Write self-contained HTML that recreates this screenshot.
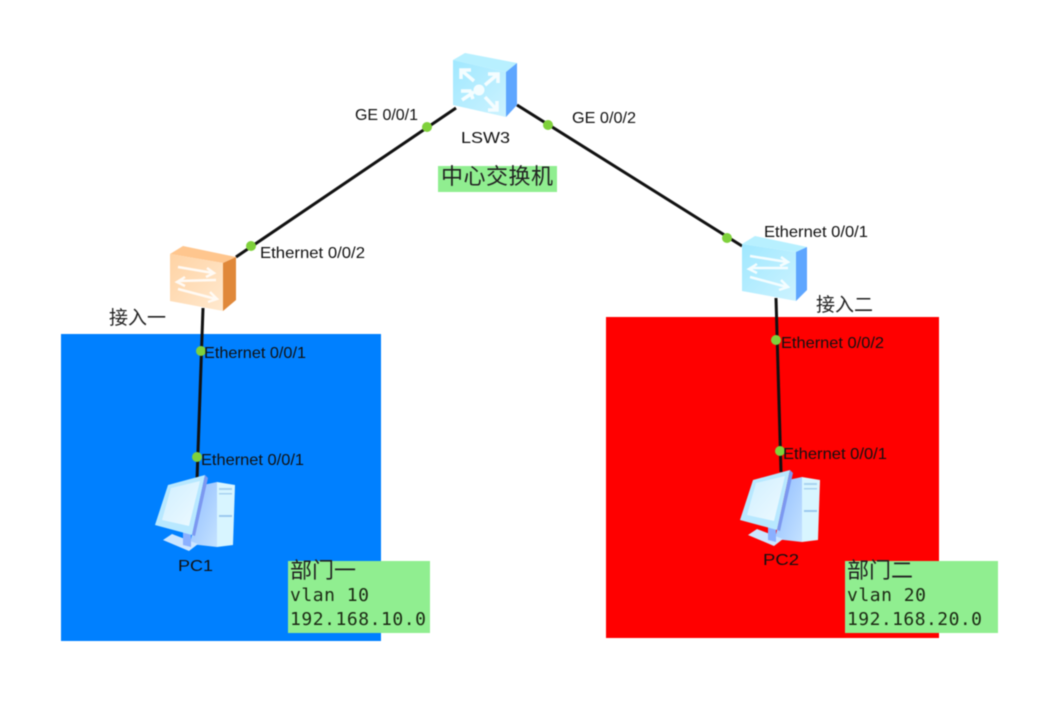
<!DOCTYPE html>
<html>
<head>
<meta charset="utf-8">
<style>
html,body{margin:0;padding:0;background:#fff;width:1062px;height:705px;overflow:hidden}
svg{display:block;filter:blur(.45px)}
.e{font-family:"Liberation Sans",sans-serif;font-size:15.7px;fill:#111}
.c{font-family:"Liberation Sans","Noto Sans CJK SC",sans-serif;font-size:19px;fill:#222}
.m{font-family:"DejaVu Sans Mono","Liberation Mono",monospace;font-size:18px;fill:#1c2a14}
</style>
</head>
<body>
<svg width="1062" height="705" viewBox="0 0 1062 705" xmlns="http://www.w3.org/2000/svg">
<defs>
<linearGradient id="bf" x1="0" y1="0" x2="1" y2="1"><stop offset="0" stop-color="#a0e8ff"/><stop offset="1" stop-color="#cdf3ff"/></linearGradient>
<linearGradient id="of" x1="0" y1="0" x2="1" y2="1"><stop offset="0" stop-color="#ffd3a4"/><stop offset="1" stop-color="#ffe9cf"/></linearGradient>
<linearGradient id="scr" x1="0" y1="0" x2="1" y2="1"><stop offset="0" stop-color="#d0efff"/><stop offset="1" stop-color="#eefaff"/></linearGradient>
<linearGradient id="side" x1="0" y1="0" x2="1" y2="1"><stop offset="0" stop-color="#8fbcff"/><stop offset="1" stop-color="#c4e2ff"/></linearGradient>
<g id="pc">
<polygon points="203,485 217,482 217,547 190,544" fill="url(#side)"/>
<polygon points="217,482 235,485 233,545 217,547" fill="#d8f5ff"/>
<polygon points="163,540 172,534 198,544 189,551" fill="#cde6ff"/>
<polygon points="183,530 191,532 191,547 183,545" fill="#8bb0ff"/>
<polygon points="155,525 168,485 205,475 192,535" fill="#b8e8ff"/>
<polygon points="162,520 171,488 200,481 189,526" fill="url(#scr)"/>
<polygon points="205,475 208,478 195,536 192,535" fill="#7c98f0"/>
<rect x="219" y="488" width="13" height="2" fill="#a8d2f0"/>
<rect x="219" y="493" width="13" height="1.5" fill="#a8d2f0"/>
<rect x="219" y="515" width="13" height="2" fill="#9cc8ee"/>
</g>
</defs>

<rect x="61" y="334" width="320" height="307" fill="#0080ff"/>
<rect x="606" y="317" width="333" height="321" fill="#ff0000"/>

<g stroke="#111" stroke-width="3" fill="none">
<line x1="456" y1="108" x2="236" y2="257"/>
<line x1="517" y1="105" x2="742" y2="246"/>
<line x1="203" y1="308" x2="197" y2="480"/>
<line x1="776" y1="298" x2="781" y2="472"/>
</g>

<!-- LSW3 -->
<polygon points="453,60 465,53 517,63 506,72" fill="#b8f0ff"/>
<polygon points="506,72 517,63 517,105 506,117" fill="#5ea6ff"/>
<polygon points="453,60 506,72 506,117 453,105" fill="url(#bf)"/>
<g stroke="#f4fdff" stroke-width="3.5" fill="none">
<path d="M461,70 L474,81 M461,79 V70 H471"/>
<path d="M498,74 L485,85 M498,83 V74 H488"/>
<path d="M462,100 L474,92 M461,91 H470 L473,99" />
<path d="M497,110 L485,97 M497,101 V110 H488"/>
</g>
<ellipse cx="479" cy="90" rx="5.5" ry="5.5" fill="#f4fdff"/>

<!-- orange switch -->
<polygon points="170,254 183,246 236,257 223,263" fill="#ffc68e"/>
<polygon points="223,263 236,257 236,300 223,311" fill="#e0883a"/>
<polygon points="170,254 223,263 223,311 170,301" fill="url(#of)"/>
<g stroke="#fffaf4" stroke-width="2.5" fill="none">
<path d="M178,267 L213,273 M207,268 L214,273 L206,277"/>
<path d="M216,279 L178,280 M185,276 L177,281 L185,285" transform="translate(0,1)"/>
<path d="M178,289 L216,299 M210,292 L217,299 L208,302"/>
</g>

<!-- blue switch -->
<polygon points="742,244 755,236 807,247 796,252" fill="#b8f0ff"/>
<polygon points="796,252 807,247 807,290 796,301" fill="#5ea6ff"/>
<polygon points="742,244 796,252 796,301 742,291" fill="url(#bf)"/>
<g stroke="#f4fdff" stroke-width="2.5" fill="none">
<path d="M750,256 L787,262 M781,257 L788,262 L780,266"/>
<path d="M788,268 L750,268 M757,264 L749,269 L757,273"/>
<path d="M750,277 L787,287 M781,280 L788,287 L779,290"/>
</g>

<use href="#pc"/>
<use href="#pc" x="585" y="-5"/>

<g fill="#7fd13b">
<circle cx="427" cy="127" r="5"/>
<circle cx="548" cy="125" r="5"/>
<circle cx="251" cy="246" r="5"/>
<circle cx="727" cy="238" r="5"/>
<circle cx="201" cy="351" r="5"/>
<circle cx="197" cy="457" r="5"/>
<circle cx="776" cy="340" r="5"/>
<circle cx="780" cy="451" r="5"/>
</g>

<rect x="438" y="166" width="119" height="26" fill="#90ee90"/>
<rect x="288" y="561" width="142" height="72" fill="#90ee90"/>
<rect x="845" y="561" width="153" height="72" fill="#90ee90"/>

<text class="e" x="355" y="120" textLength="63" lengthAdjust="spacingAndGlyphs">GE 0/0/1</text>
<text class="e" x="572" y="123" textLength="64" lengthAdjust="spacingAndGlyphs">GE 0/0/2</text>
<text class="e" x="461" y="143" textLength="49" lengthAdjust="spacingAndGlyphs">LSW3</text>
<text class="e" x="260" y="258" textLength="105" lengthAdjust="spacingAndGlyphs">Ethernet 0/0/2</text>
<text class="e" x="764" y="237" textLength="104" lengthAdjust="spacingAndGlyphs">Ethernet 0/0/1</text>
<text class="e" x="204" y="358" textLength="102" lengthAdjust="spacingAndGlyphs">Ethernet 0/0/1</text>
<text class="e" x="201" y="465" textLength="103" lengthAdjust="spacingAndGlyphs">Ethernet 0/0/1</text>
<text class="e" x="781" y="348" textLength="103" lengthAdjust="spacingAndGlyphs">Ethernet 0/0/2</text>
<text class="e" x="783" y="459" textLength="104" lengthAdjust="spacingAndGlyphs">Ethernet 0/0/1</text>
<text class="e" x="178" y="571" textLength="35" lengthAdjust="spacingAndGlyphs">PC1</text>
<text class="e" x="763" y="565" textLength="36" lengthAdjust="spacingAndGlyphs">PC2</text>

<text class="c" x="109" y="324" textLength="57">接入一</text>
<text class="c" x="816" y="311" textLength="57">接入二</text>
<text class="c" x="441" y="184" style="font-size:22px" textLength="112">中心交换机</text>
<text class="c" x="290" y="578" style="font-size:22px" textLength="66">部门一</text>
<text class="c" x="847" y="578" style="font-size:22px" textLength="66">部门二</text>

<text class="m" x="290" y="601" textLength="79">vlan 10</text>
<text class="m" x="290" y="625" textLength="136">192.168.10.0</text>
<text class="m" x="847" y="601" textLength="79">vlan 20</text>
<text class="m" x="847" y="625" textLength="135">192.168.20.0</text>
</svg>
</body>
</html>
